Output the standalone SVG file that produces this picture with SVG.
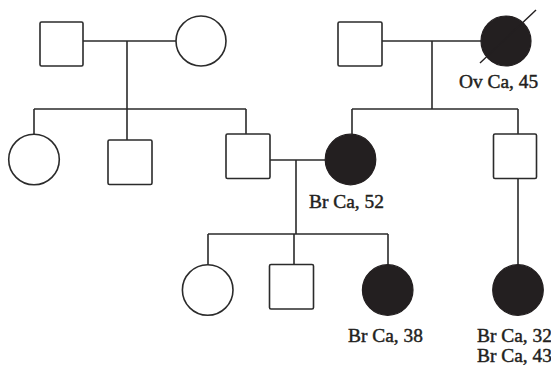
<svg xmlns="http://www.w3.org/2000/svg" width="551" height="366" viewBox="0 0 551 366">
<style>
.ln{stroke:#2b2b2b;stroke-width:1.6;fill:none}
.m{fill:#fff;stroke:#2b2b2b;stroke-width:1.6}
.u{fill:#fff;stroke:#2b2b2b;stroke-width:1.6}
.a{fill:#231f20;stroke:#231f20;stroke-width:1.2}
.d{stroke:#231f20;stroke-width:1.4;fill:none}
text{font-family:"Liberation Serif","Times New Roman",serif;font-size:19.4px;fill:#231f20;stroke:#231f20;stroke-width:0.45}
</style>
<rect width="551" height="366" fill="#fff"/>
<g id="connectors">
<path class="ln" d="M83 41H176M127 41V109M34 109H246M34 109V134M127 109V140M246 109V134"/>
<path class="ln" d="M382 41H481M432 41V109M352 109H518M352 109V134M518 109V134M518 178V265"/>
<path class="ln" d="M270 160H325M296 160V234M208 234H388M208 234V265M294 234V264M388 234V265"/>
</g>
<g id="gf1"><rect class="m" x="40" y="22" width="43" height="44" rx="1.5"/></g>
<g id="gm1"><circle class="u" cx="201" cy="41" r="25"/></g>
<g id="gf2"><rect class="m" x="338" y="22" width="44" height="44" rx="1.5"/></g>
<g id="gm2"><circle class="a" cx="506" cy="41" r="25"/><path class="d" d="M480 63L536 10"/><text x="459" y="88">Ov Ca, 45</text></g>
<g id="aunt"><circle class="u" cx="34" cy="159.5" r="25.3"/></g>
<g id="uncle1"><rect class="m" x="108" y="140" width="44" height="44.5" rx="1.5"/></g>
<g id="father"><rect class="m" x="226" y="134" width="44" height="44.5" rx="1.5"/></g>
<g id="mother"><circle class="a" cx="350.5" cy="159.5" r="25.3"/><text x="309" y="208">Br Ca, 52</text></g>
<g id="uncle2"><rect class="m" x="493.5" y="134" width="43" height="44.5" rx="1.5"/></g>
<g id="sister"><circle class="u" cx="207.7" cy="290" r="25.3"/></g>
<g id="brother"><rect class="m" x="269.5" y="264.5" width="44" height="44.5" rx="1.5"/></g>
<g id="proband"><circle class="a" cx="387.7" cy="290" r="25.3"/><text x="348" y="342">Br Ca, 38</text></g>
<g id="cousin"><circle class="a" cx="518" cy="290" r="25.3"/><text x="477" y="342">Br Ca, 32</text><text x="477" y="362">Br Ca, 43</text></g>
</svg>
